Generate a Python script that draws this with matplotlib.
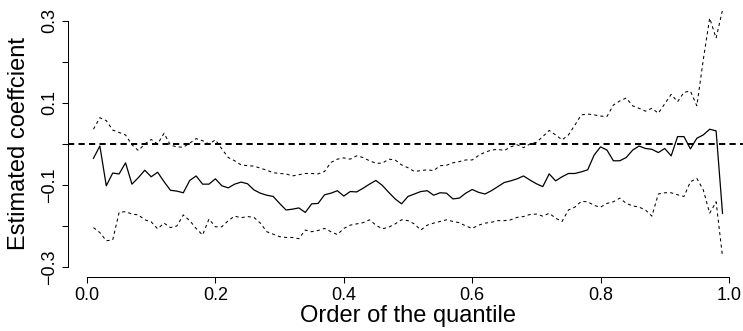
import matplotlib.pyplot as plt
import numpy as np

plt.rcParams['font.family'] = ['Liberation Sans', 'DejaVu Sans']

# quantile orders 0.01 .. 0.99
quantiles = np.arange(1, 100) / 100

estimate = [
    -0.035, -0.005, -0.102, -0.071, -0.073, -0.046, -0.098, -0.082, -0.064, -0.080,
    -0.069, -0.092, -0.113, -0.115, -0.119, -0.089, -0.078, -0.098, -0.098, -0.085,
    -0.102, -0.107, -0.098, -0.093, -0.097, -0.112, -0.120, -0.125, -0.128, -0.145,
    -0.161, -0.159, -0.156, -0.167, -0.146, -0.145, -0.124, -0.120, -0.114, -0.127,
    -0.116, -0.117, -0.108, -0.098, -0.089, -0.101, -0.118, -0.134, -0.146, -0.128,
    -0.122, -0.116, -0.114, -0.125, -0.119, -0.120, -0.134, -0.132, -0.120, -0.111,
    -0.118, -0.122, -0.114, -0.104, -0.094, -0.090, -0.085, -0.078, -0.088, -0.097,
    -0.104, -0.073, -0.090, -0.080, -0.072, -0.072, -0.068, -0.063, -0.027, -0.007,
    -0.015, -0.041, -0.041, -0.033, -0.015, -0.005, -0.011, -0.013, -0.021, -0.011,
    -0.029, 0.018, 0.018, -0.012, 0.014, 0.022, 0.036, 0.032, -0.169,
]

upper = [
    0.036, 0.064, 0.057, 0.034, 0.028, 0.022, -0.002, -0.016, 0.000, 0.011,
    0.000, 0.026, -0.003, -0.007, -0.008, 0.002, 0.013, 0.008, 0.000, 0.010,
    -0.012, -0.033, -0.041, -0.051, -0.053, -0.054, -0.059, -0.064, -0.070, -0.072,
    -0.073, -0.078, -0.075, -0.072, -0.072, -0.073, -0.067, -0.045, -0.037, -0.034,
    -0.037, -0.029, -0.033, -0.041, -0.047, -0.047, -0.037, -0.039, -0.051, -0.058,
    -0.067, -0.065, -0.063, -0.065, -0.053, -0.052, -0.046, -0.043, -0.039, -0.039,
    -0.028, -0.020, -0.015, -0.013, -0.016, -0.007, -0.002, -0.009, 0.000, 0.004,
    0.018, 0.033, 0.022, 0.010, 0.022, 0.046, 0.071, 0.073, 0.071, 0.068,
    0.067, 0.095, 0.105, 0.112, 0.093, 0.087, 0.080, 0.087, 0.075, 0.098,
    0.121, 0.103, 0.126, 0.129, 0.093, 0.205, 0.307, 0.258, 0.327,
]

lower = [
    -0.204, -0.216, -0.236, -0.234, -0.167, -0.165, -0.171, -0.173, -0.185, -0.190,
    -0.207, -0.193, -0.204, -0.200, -0.173, -0.187, -0.206, -0.222, -0.183, -0.202,
    -0.202, -0.187, -0.176, -0.180, -0.177, -0.179, -0.193, -0.214, -0.220, -0.226,
    -0.228, -0.228, -0.231, -0.210, -0.214, -0.211, -0.206, -0.214, -0.221, -0.206,
    -0.198, -0.195, -0.192, -0.185, -0.198, -0.207, -0.203, -0.195, -0.185, -0.187,
    -0.195, -0.210, -0.198, -0.193, -0.189, -0.185, -0.189, -0.192, -0.200, -0.206,
    -0.198, -0.193, -0.191, -0.187, -0.187, -0.185, -0.179, -0.177, -0.172, -0.171,
    -0.176, -0.169, -0.181, -0.189, -0.161, -0.154, -0.140, -0.141, -0.150, -0.154,
    -0.145, -0.141, -0.132, -0.145, -0.151, -0.154, -0.161, -0.176, -0.122, -0.119,
    -0.119, -0.124, -0.128, -0.092, -0.084, -0.112, -0.169, -0.141, -0.275,
]

x_ticks = [0.0, 0.2, 0.4, 0.6, 0.8, 1.0]
y_ticks = [-0.3, -0.2, -0.1, 0.0, 0.1, 0.2, 0.3]
y_labels = ['\u22120.3', '', '\u22120.1', '', '0.1', '', '0.3']

fig = plt.figure(figsize=(7.43, 3.31), dpi=100)
ax = fig.add_axes([0.0919, 0.1637, 0.9144, 0.8027])

ax.plot(quantiles, estimate, color='black', lw=0.9)
ax.plot(quantiles, upper, color='black', lw=0.75, dashes=(3, 3))
ax.plot(quantiles, lower, color='black', lw=0.75, dashes=(3, 3))
ax.axhline(0, color='black', lw=1.4, dashes=(3.2, 2.2))

# R-like padding of the ranges
ax.set_xlim(0.01 - 0.0392, 0.99 + 0.0392)
ax.set_ylim(-0.324, 0.324)

ax.spines['top'].set_visible(False)
ax.spines['right'].set_visible(False)
ax.spines['left'].set_bounds(-0.3, 0.3)
ax.spines['bottom'].set_bounds(0.0, 1.0)
for s in ('left', 'bottom'):
    ax.spines[s].set_linewidth(0.75)

ax.set_xticks(x_ticks)
ax.set_xticklabels(['%.1f' % t for t in x_ticks])
ax.set_yticks(y_ticks)
ax.set_yticklabels(y_labels, rotation=90, va='center')
ax.tick_params(direction='out', length=4.3, width=0.75, labelsize=13, pad=3)

ax.set_xlabel('Order of the quantile', fontsize=17, va='center')
ax.xaxis.set_label_coords(0.5, -0.148)
ax.set_ylabel('Estimated coeffcient', fontsize=17, va='center')
ax.yaxis.set_label_coords(-0.073, 0.5)

fig.savefig('out.png', dpi=100)
